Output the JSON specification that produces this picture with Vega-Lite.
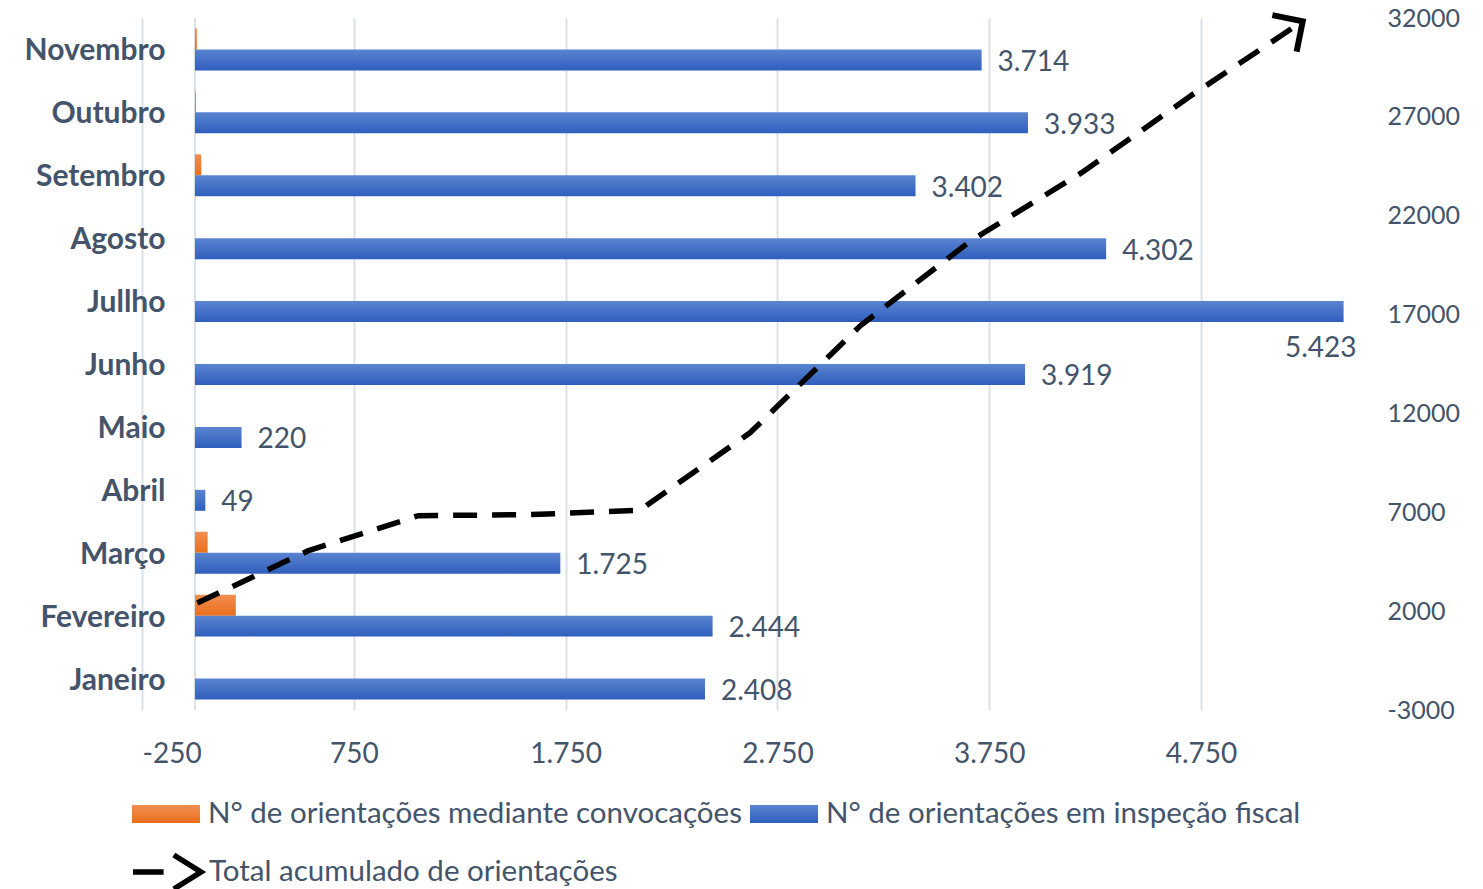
{
  "$schema": "https://vega.github.io/schema/vega-lite/v6.json",
  "width": 1216,
  "height": 692,
  "autosize": {"type": "none"},
  "padding": {"left": 142, "top": 18, "right": 125, "bottom": 179},
  "background": "white",
  "config": {
    "locale": {"number": {"decimal": ",", "thousands": ".", "grouping": [3], "currency": ["R$", ""], "minus": "-"}},
    "font": "Lato",
    "view": {"stroke": null},
    "axis": {"labelColor": "#44546a", "labelFont": "Lato"},
    "legend": {"labelColor": "#44546a", "labelFont": "Lato", "labelFontSize": 29.5, "labelLimit": 0}
  },
  "datasets": {
    "barras": [
      {"mes": "Janeiro", "serie": "N° de orientações mediante convocações", "valor": 0},
      {"mes": "Janeiro", "serie": "N° de orientações em inspeção fiscal", "valor": 2408},
      {"mes": "Fevereiro", "serie": "N° de orientações mediante convocações", "valor": 193},
      {"mes": "Fevereiro", "serie": "N° de orientações em inspeção fiscal", "valor": 2444},
      {"mes": "Março", "serie": "N° de orientações mediante convocações", "valor": 60},
      {"mes": "Março", "serie": "N° de orientações em inspeção fiscal", "valor": 1725},
      {"mes": "Abril", "serie": "N° de orientações mediante convocações", "valor": 0},
      {"mes": "Abril", "serie": "N° de orientações em inspeção fiscal", "valor": 49},
      {"mes": "Maio", "serie": "N° de orientações mediante convocações", "valor": 0},
      {"mes": "Maio", "serie": "N° de orientações em inspeção fiscal", "valor": 220},
      {"mes": "Junho", "serie": "N° de orientações mediante convocações", "valor": 0},
      {"mes": "Junho", "serie": "N° de orientações em inspeção fiscal", "valor": 3919},
      {"mes": "Jullho", "serie": "N° de orientações mediante convocações", "valor": 0},
      {"mes": "Jullho", "serie": "N° de orientações em inspeção fiscal", "valor": 5423},
      {"mes": "Agosto", "serie": "N° de orientações mediante convocações", "valor": 0},
      {"mes": "Agosto", "serie": "N° de orientações em inspeção fiscal", "valor": 4302},
      {"mes": "Setembro", "serie": "N° de orientações mediante convocações", "valor": 30},
      {"mes": "Setembro", "serie": "N° de orientações em inspeção fiscal", "valor": 3402},
      {"mes": "Outubro", "serie": "N° de orientações mediante convocações", "valor": 5},
      {"mes": "Outubro", "serie": "N° de orientações em inspeção fiscal", "valor": 3933},
      {"mes": "Novembro", "serie": "N° de orientações mediante convocações", "valor": 9},
      {"mes": "Novembro", "serie": "N° de orientações em inspeção fiscal", "valor": 3714}
    ],
    "linha": [
      {"mes": "Janeiro", "total": 2408},
      {"mes": "Fevereiro", "total": 5045},
      {"mes": "Março", "total": 6830},
      {"mes": "Abril", "total": 6879},
      {"mes": "Maio", "total": 7099},
      {"mes": "Junho", "total": 11018},
      {"mes": "Jullho", "total": 16441},
      {"mes": "Agosto", "total": 20743},
      {"mes": "Setembro", "total": 24175},
      {"mes": "Outubro", "total": 28113},
      {"mes": "Novembro", "total": 31836}
    ]
  },
  "layer": [
    {
      "resolve": {"scale": {"opacity": "independent"}, "legend": {"opacity": "independent"}},
      "layer": [
        {
          "data": {"values": [{}]},
          "mark": {"type": "rule", "color": "#dce1e7", "strokeWidth": 2},
          "encoding": {"x": {"datum": 0, "type": "quantitative"}}
        },
        {
          "data": {"name": "barras"},
          "transform": [{"filter": "datum.serie == 'N° de orientações mediante convocações'"}],
          "mark": {"type": "bar", "color": {"gradient": "linear", "x1": 0, "y1": 0, "x2": 0, "y2": 1, "stops": [{"offset": 0, "color": "#f28f52"}, {"offset": 1, "color": "#e86f1c"}]}},
          "encoding": {
            "y": {
              "field": "mes", "type": "nominal",
              "sort": ["Novembro", "Outubro", "Setembro", "Agosto", "Jullho", "Junho", "Maio", "Abril", "Março", "Fevereiro", "Janeiro"],
              "scale": {"paddingInner": 0.333, "paddingOuter": 0.1667},
              "axis": {"title": null, "ticks": false, "domain": false, "labelFontSize": 30, "labelFontWeight": "bold", "labelPadding": 0, "offset": -23, "labelBaseline": "middle", "labelOffset": 2}
            },
            "x": {
              "field": "valor", "type": "quantitative",
              "scale": {"domain": [-250, 5491], "nice": false, "zero": false},
              "axis": {"title": null, "values": [-250, 750, 1750, 2750, 3750, 4750], "format": ",d", "grid": true, "gridColor": "#dce1e7", "gridWidth": 2, "domain": false, "ticks": false, "labelFontSize": 28, "labelPadding": 30}
            },
            "yOffset": {"field": "serie", "type": "nominal", "scale": {"domain": ["N° de orientações mediante convocações", "N° de orientações em inspeção fiscal"]}},
            "opacity": {
              "datum": "N° de orientações mediante convocações", "type": "nominal",
              "scale": {"range": [1, 1]},
              "legend": {"title": null, "orient": "none", "legendX": -10, "legendY": 762, "symbolType": "M -1 -0.265 L 1 -0.265 L 1 0.265 L -1 0.265 Z", "symbolSize": 4624, "symbolStrokeWidth": 0, "labelOffset": 8, "labelFontSize": 29.5, "labelLimit": 0}
            }
          }
        },
        {
          "data": {"name": "barras"},
          "transform": [{"filter": "datum.serie == 'N° de orientações em inspeção fiscal'"}],
          "mark": {"type": "bar", "color": {"gradient": "linear", "x1": 0, "y1": 0, "x2": 0, "y2": 1, "stops": [{"offset": 0, "color": "#5b84d0"}, {"offset": 1, "color": "#2f5ebd"}]}},
          "encoding": {
            "y": {"field": "mes", "type": "nominal", "sort": ["Novembro", "Outubro", "Setembro", "Agosto", "Jullho", "Junho", "Maio", "Abril", "Março", "Fevereiro", "Janeiro"]},
            "x": {"field": "valor", "type": "quantitative"},
            "yOffset": {"field": "serie", "type": "nominal"},
            "opacity": {
              "datum": "N° de orientações em inspeção fiscal", "type": "nominal",
              "scale": {"range": [1, 1]},
              "legend": {"title": null, "orient": "none", "legendX": 608, "legendY": 762, "symbolType": "M -1 -0.265 L 1 -0.265 L 1 0.265 L -1 0.265 Z", "symbolSize": 4624, "symbolStrokeWidth": 0, "labelOffset": 8, "labelFontSize": 29.5, "labelLimit": 0}
            }
          }
        },
        {
          "data": {"name": "barras"},
          "transform": [{"filter": "datum.serie == 'N° de orientações em inspeção fiscal' && datum.mes != 'Jullho'"}],
          "mark": {"type": "text", "align": "left", "baseline": "middle", "dx": 16, "dy": 3, "fontSize": 28, "color": "#44546a"},
          "encoding": {
            "y": {"field": "mes", "type": "nominal", "sort": ["Novembro", "Outubro", "Setembro", "Agosto", "Jullho", "Junho", "Maio", "Abril", "Março", "Fevereiro", "Janeiro"]},
            "x": {"field": "valor", "type": "quantitative"},
            "yOffset": {"field": "serie", "type": "nominal"},
            "text": {"field": "valor", "type": "quantitative", "format": ",d"}
          }
        },
        {
          "data": {"name": "barras"},
          "transform": [{"filter": "datum.serie == 'N° de orientações em inspeção fiscal' && datum.mes == 'Jullho'"}],
          "mark": {"type": "text", "align": "right", "baseline": "middle", "dx": 13, "dy": 37, "fontSize": 28, "color": "#44546a"},
          "encoding": {
            "y": {"field": "mes", "type": "nominal", "sort": ["Novembro", "Outubro", "Setembro", "Agosto", "Jullho", "Junho", "Maio", "Abril", "Março", "Fevereiro", "Janeiro"]},
            "x": {"field": "valor", "type": "quantitative"},
            "yOffset": {"field": "serie", "type": "nominal"},
            "text": {"field": "valor", "type": "quantitative", "format": ",d"}
          }
        }
      ]
    },
    {
      "data": {"name": "linha"},
      "layer": [
        {
          "mark": {"type": "line", "strokeWidth": 5.5, "strokeDash": [24, 15], "color": "black"},
          "encoding": {
            "x": {"field": "mes", "type": "ordinal", "scale": {"domain": ["Janeiro", "Fevereiro", "Março", "Abril", "Maio", "Junho", "Jullho", "Agosto", "Setembro", "Outubro", "Novembro"]}, "axis": null},
            "y": {
              "field": "total", "type": "quantitative",
              "scale": {"domain": [-3000, 32000], "nice": false, "zero": false},
              "axis": {"orient": "right", "title": null, "values": [-3000, 2000, 7000, 12000, 17000, 22000, 27000, 32000], "format": "d", "grid": false, "ticks": false, "domain": false, "labelAlign": "left", "labelPadding": 29, "labelFontSize": 25, "labelBaseline": "middle"}
            },
            "stroke": {
              "datum": "Total acumulado de orientações",
              "scale": {"range": ["black"]},
              "legend": {"title": null, "orient": "none", "legendX": -12, "legendY": 817, "symbolType": "M -1 0 L -0.1 0 M 0.2 -0.5 L 1 0 L 0.2 0.5", "symbolSize": 4624, "symbolStrokeWidth": 5.5, "symbolFillColor": "transparent", "symbolStrokeColor": "black", "symbolDash": [1000, 0], "labelOffset": 5, "labelFontSize": 29.5, "labelLimit": 0}
            }
          }
        },
        {
          "transform": [{"filter": "datum.mes == 'Novembro'"}],
          "mark": {"type": "point", "shape": "M -1 -1 L 0 0 L -1 1", "filled": false, "size": 1918, "angle": -33.6, "strokeWidth": 6, "color": "black", "opacity": 1, "strokeJoin": "miter"},
          "encoding": {
            "x": {"field": "mes", "type": "ordinal"},
            "y": {"field": "total", "type": "quantitative"}
          }
        }
      ]
    }
  ],
  "resolve": {"scale": {"x": "independent", "y": "independent"}}
}
